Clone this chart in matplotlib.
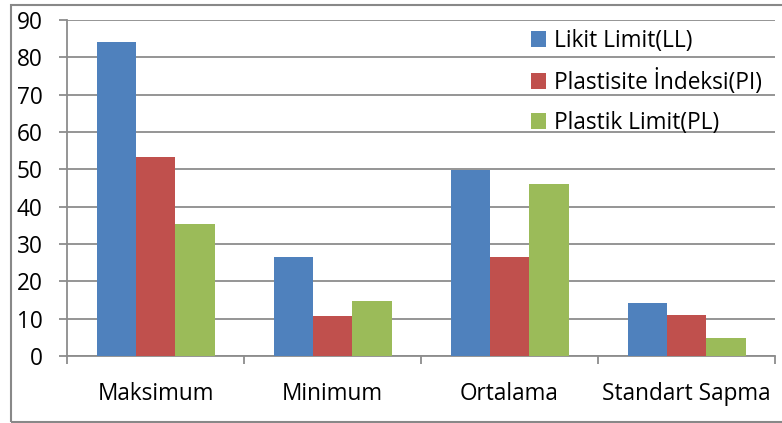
import matplotlib
matplotlib.use("Agg")
import matplotlib.pyplot as plt
from matplotlib.patches import Rectangle
import numpy as np

categories = ["Maksimum", "Minimum", "Ortalama", "Standart Sapma"]
series_names = ["Likit Limit(LL)", "Plastisite İndeksi(PI)", "Plastik Limit(PL)"]
likit_limit = [84.0, 26.6, 49.9, 14.1]
plastisite_indeksi = [53.2, 10.6, 26.6, 11.0]
plastik_limit = [35.3, 14.6, 46.1, 4.9]
y_ticks = [0, 10, 20, 30, 40, 50, 60, 70, 80, 90]

colors = ["#4F81BD", "#C0504D", "#9BBB59"]
grid_color = "#8C8C8C"

plt.rcParams["font.family"] = ["Open Sans", "DejaVu Sans"]
FS = 16.3

W, H = 782, 423
fig = plt.figure(figsize=(W / 100, H / 100), dpi=100)
ax = fig.add_axes([67 / W, (H - 356) / H, (775 - 67) / W, (356 - 20) / H])

x = np.arange(len(categories))
bw = 1 / 4.5
for i, (vals, name, c) in enumerate(zip([likit_limit, plastisite_indeksi, plastik_limit],
                                         series_names, colors)):
    ax.bar(x + (i - 1) * bw, vals, width=bw, color=c, label=name, zorder=3,
           edgecolor="none")

ax.set_xlim(-0.5, len(categories) - 0.5)
ax.set_ylim(0, 90)
ax.set_yticks(y_ticks)
ax.yaxis.grid(True, color=grid_color, linewidth=1.3, zorder=0)
ax.set_axisbelow(True)

for s in ["top", "right"]:
    ax.spines[s].set_visible(False)
for s in ["left", "bottom"]:
    ax.spines[s].set_color(grid_color)
    ax.spines[s].set_linewidth(1.3)

ax.tick_params(axis="y", length=6, width=1.3, color=grid_color, pad=11.5,
               labelsize=FS, labelcolor="black")
ax.set_xticks(np.arange(-0.5, len(categories), 1.0))
ax.set_xticklabels([])
ax.tick_params(axis="x", which="major", length=6, width=1.3, color=grid_color)
ax.set_xticks(x, minor=True)
ax.set_xticklabels(categories, minor=True)
ax.tick_params(axis="x", which="minor", length=0, pad=18.5, labelsize=FS,
               labelcolor="black")

leg = fig.legend(loc="upper left", bbox_to_anchor=(522 / W, 1 - 20 / H),
                 frameon=False, fontsize=FS, handlelength=0.68, handleheight=0.68,
                 handletextpad=0.35, labelspacing=0.7, borderaxespad=0)

fig.patches.append(Rectangle((11 / W, 1 / H), 1.0, (418 - 1) / H,
                             transform=fig.transFigure, fill=False,
                             edgecolor="#888888", linewidth=1.5))

fig.savefig("out.png", dpi=100)
